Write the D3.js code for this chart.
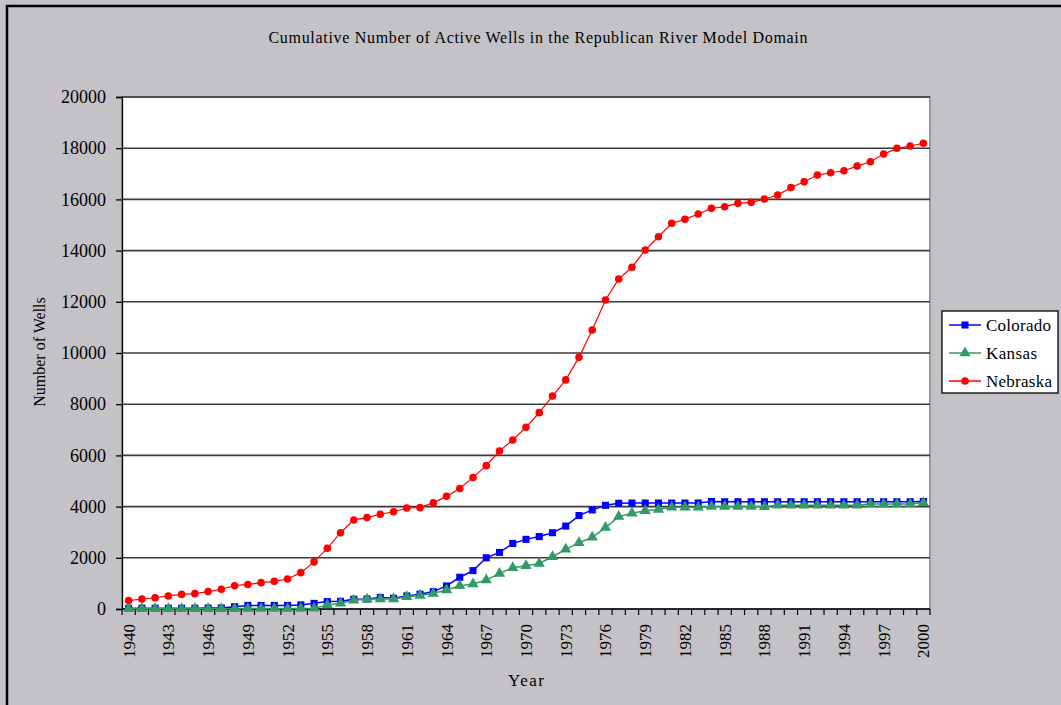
<!DOCTYPE html>
<html>
<head>
<meta charset="utf-8">
<script src="https://cdn.jsdelivr.net/npm/d3@7"></script>
<style>
    body { margin: 0; background: #c4c2c6; }
    svg { display: block; }
    text { font-family: "Liberation Serif", "Times New Roman", serif; fill: #000; }
</style>
</head>
<body>
<svg id="chart" width="1061" height="705"></svg>
<script>
// categories
var years = d3.range(1940, 2001);
var labelYears = years.filter(function (y) { return (y - 1940) % 3 == 0; });
var yTicks = [0, 2000, 4000, 6000, 8000, 10000, 12000, 14000, 16000, 18000, 20000];

// series values
var colorado = [30, 30, 30, 30, 30, 30, 40, 40, 90, 140,
    140, 140, 140, 160, 220, 290, 300, 380, 390, 450,
    420, 510, 580, 680, 900, 1240, 1500, 2000, 2210, 2560,
    2720, 2830, 2980, 3240, 3650, 3870, 4050, 4130, 4140, 4140,
    4140, 4140, 4140, 4140, 4200, 4190, 4190, 4190, 4190, 4190,
    4190, 4190, 4190, 4190, 4190, 4190, 4190, 4190, 4190, 4190, 4200];
var kansas = [10, 10, 10, 10, 10, 10, 10, 10, 10, 20,
    20, 20, 20, 20, 30, 160, 220, 340, 380, 390,
    390, 480, 530, 610, 740, 910, 980, 1130, 1390, 1610,
    1690, 1780, 2040, 2330, 2590, 2800, 3180, 3610, 3740, 3840,
    3890, 3970, 3970, 3970, 4000, 4000, 4000, 4000, 3990, 4050,
    4050, 4050, 4050, 4050, 4050, 4050, 4100, 4100, 4100, 4100, 4150];
var nebraska = [330, 390, 440, 510, 570, 600, 680, 770, 910, 960,
    1030, 1080, 1170, 1420, 1840, 2370, 2980, 3480, 3570, 3700,
    3800, 3945, 3960, 4145, 4400, 4710, 5140, 5600, 6170, 6600,
    7100, 7670, 8320, 8950, 9830, 10900, 12070, 12890, 13350, 14020,
    14540, 15065, 15220, 15430, 15650, 15715, 15845, 15885, 16015, 16170,
    16460, 16690, 16950, 17040, 17120, 17300, 17470, 17770, 17995, 18085, 18190];

var seriesNames = ["Colorado", "Kansas", "Nebraska"];
var seriesValues = [colorado, kansas, nebraska];
var seriesColors = ["#0000ff", "#339966", "#ff0000"];
var seriesSymbols = [d3.symbolSquare, d3.symbolTriangle, d3.symbolCircle];
var symbolSizes = [50, 55, 45];

var svg = d3.select("#chart");

// chart area border (only top/left visible in the picture)
svg.append("rect")
    .attr("x", 7).attr("y", 6)
    .attr("width", 1100).attr("height", 760)
    .attr("fill", "#c4c2c6")
    .attr("stroke", "#000")
    .attr("stroke-width", 2.5);

var plotL = 122, plotR = 930, plotT = 97, plotB = 609;

var xScale = d3.scaleBand().domain(years).range([plotL, plotR]);
var yScale = d3.scaleLinear().domain([0, 20000]).range([plotB, plotT]);

// plot area
svg.append("rect")
    .attr("x", plotL).attr("y", plotT)
    .attr("width", plotR - plotL).attr("height", plotB - plotT)
    .attr("fill", "#fff")
    .attr("stroke", "#9a9a9a")
    .attr("stroke-width", 2);

// gridlines
svg.append("g").selectAll("line")
    .data(yTicks.filter(function (d) { return d > 0; }))
    .enter().append("line")
    .attr("x1", plotL).attr("x2", plotR)
    .attr("y1", function (d) { return yScale(d); })
    .attr("y2", function (d) { return yScale(d); })
    .attr("stroke", "#3a3a3a")
    .attr("stroke-width", 1.6);

// y axis
var yAxis = svg.append("g")
    .attr("transform", "translate(" + plotL + ",0)")
    .call(d3.axisLeft(yScale).tickValues(yTicks).tickSize(6).tickPadding(10).tickFormat(d3.format("d")));
yAxis.selectAll("path, line").attr("stroke", "#000").attr("stroke-width", 1.3);
yAxis.selectAll("text")
    .style("font-family", "'Liberation Serif', serif")
    .style("font-size", "18px");

// x axis: ticks at the category boundaries, labels at centres
var xg = svg.append("g");
xg.append("line")
    .attr("x1", plotL).attr("x2", plotR)
    .attr("y1", plotB).attr("y2", plotB)
    .attr("stroke", "#000").attr("stroke-width", 1.6);
xg.selectAll(".xtick")
    .data(years.concat([2001]))
    .enter().append("line")
    .attr("class", "xtick")
    .attr("x1", function (d) { return d == 2001 ? plotR : xScale(d); })
    .attr("x2", function (d) { return d == 2001 ? plotR : xScale(d); })
    .attr("y1", plotB).attr("y2", plotB + 6)
    .attr("stroke", "#000").attr("stroke-width", 1.2);
xg.selectAll(".xlabel")
    .data(labelYears)
    .enter().append("text")
    .attr("class", "xlabel")
    .attr("transform", function (d) {
        return "translate(" + (xScale(d) + xScale.bandwidth() / 2 + 6) + "," + (plotB + 15) + ") rotate(-90)";
    })
    .attr("text-anchor", "end")
    .style("font-size", "17px")
    .text(function (d) { return d; });

// lines and markers
var line = d3.line()
    .x(function (d, i) { return xScale(years[i]) + xScale.bandwidth() / 2; })
    .y(function (d) { return yScale(d); });

seriesValues.forEach(function (vals, s) {
    var g = svg.append("g");
    g.append("path")
        .datum(vals)
        .attr("d", line)
        .attr("fill", "none")
        .attr("stroke", seriesColors[s])
        .attr("stroke-width", s == 2 ? 1.2 : 1.5);
    g.selectAll("path.mark")
        .data(vals)
        .enter().append("path")
        .attr("class", "mark")
        .attr("d", d3.symbol().type(seriesSymbols[s]).size(symbolSizes[s]))
        .attr("transform", function (d, i) {
            return "translate(" + (xScale(years[i]) + xScale.bandwidth() / 2) + "," + yScale(d) + ")";
        })
        .attr("fill", seriesColors[s]);
});

// title and axis titles
svg.append("text")
    .attr("x", 538).attr("y", 43)
    .attr("text-anchor", "middle")
    .attr("textLength", 539)
    .attr("lengthAdjust", "spacing")
    .style("font-size", "16px")
    .text("Cumulative Number of Active Wells in the Republican River Model Domain");

svg.append("text")
    .attr("transform", "translate(45,352) rotate(-90)")
    .attr("text-anchor", "middle")
    .style("font-size", "16px")
    .text("Number of Wells");

svg.append("text")
    .attr("x", 526).attr("y", 686)
    .attr("text-anchor", "middle")
    .attr("textLength", 36)
    .attr("lengthAdjust", "spacing")
    .style("font-size", "17px")
    .text("Year");

// legend
var legend = svg.append("g");
legend.append("rect")
    .attr("x", 942).attr("y", 311)
    .attr("width", 116).attr("height", 82)
    .attr("fill", "#fff")
    .attr("stroke", "#000")
    .attr("stroke-width", 1.3);
var legendRows = [325, 353, 381];
seriesNames.forEach(function (name, s) {
    var y = legendRows[s];
    legend.append("line")
        .attr("x1", 949).attr("x2", 981)
        .attr("y1", y).attr("y2", y)
        .attr("stroke", seriesColors[s]).attr("stroke-width", 1.5);
    legend.append("path")
        .attr("d", d3.symbol().type(seriesSymbols[s]).size(symbolSizes[s]))
        .attr("transform", "translate(965," + y + ")")
        .attr("fill", seriesColors[s]);
    legend.append("text")
        .attr("x", 986).attr("y", y + 6)
        .attr("textLength", [65, 51, 66][s])
        .attr("lengthAdjust", "spacing")
        .style("font-size", "17px")
        .text(name);
});
</script>
</body>
</html>
